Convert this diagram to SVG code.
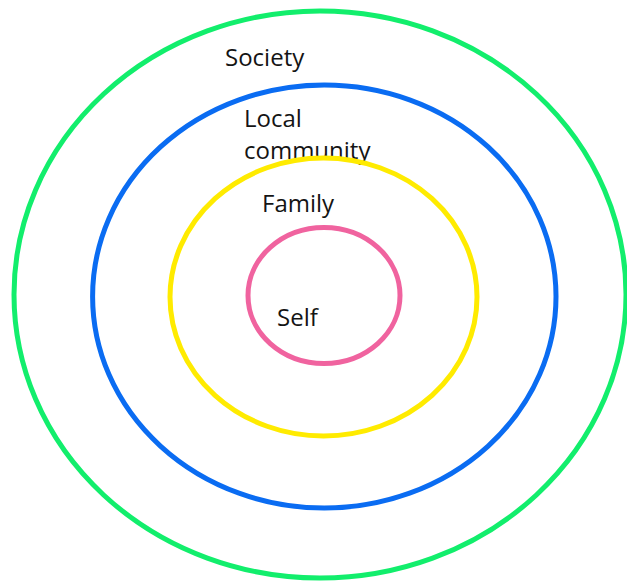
<svg xmlns="http://www.w3.org/2000/svg" width="627" height="581" viewBox="0 0 627 581">
  <style>
    .ring { fill: none; stroke-width: 5; }
    .label { font-family: "Open Sans", "Liberation Sans", sans-serif; font-size: 24px; fill: #141414; }
  </style>
  <rect width="627" height="581" fill="#ffffff"/>
  <g id="society">
    <ellipse class="ring" cx="320" cy="294.5" rx="306" ry="283.5" stroke="#12ee6c"/>
    <text class="label" x="225" y="66">Society</text>
  </g>
  <g id="local-community">
    <ellipse class="ring" cx="324.3" cy="296.5" rx="231.7" ry="211.5" stroke="#0a6cf2"/>
    <text class="label" x="244" y="127">Local</text>
    <text class="label" x="244" y="159">community</text>
  </g>
  <g id="family">
    <ellipse class="ring" cx="323.5" cy="297" rx="153.5" ry="139" stroke="#ffeb00"/>
    <text class="label" x="262" y="212">Family</text>
  </g>
  <g id="self">
    <ellipse class="ring" cx="324" cy="295.5" rx="76" ry="68" stroke="#f0639f"/>
    <text class="label" x="277" y="326">Self</text>
  </g>
</svg>
